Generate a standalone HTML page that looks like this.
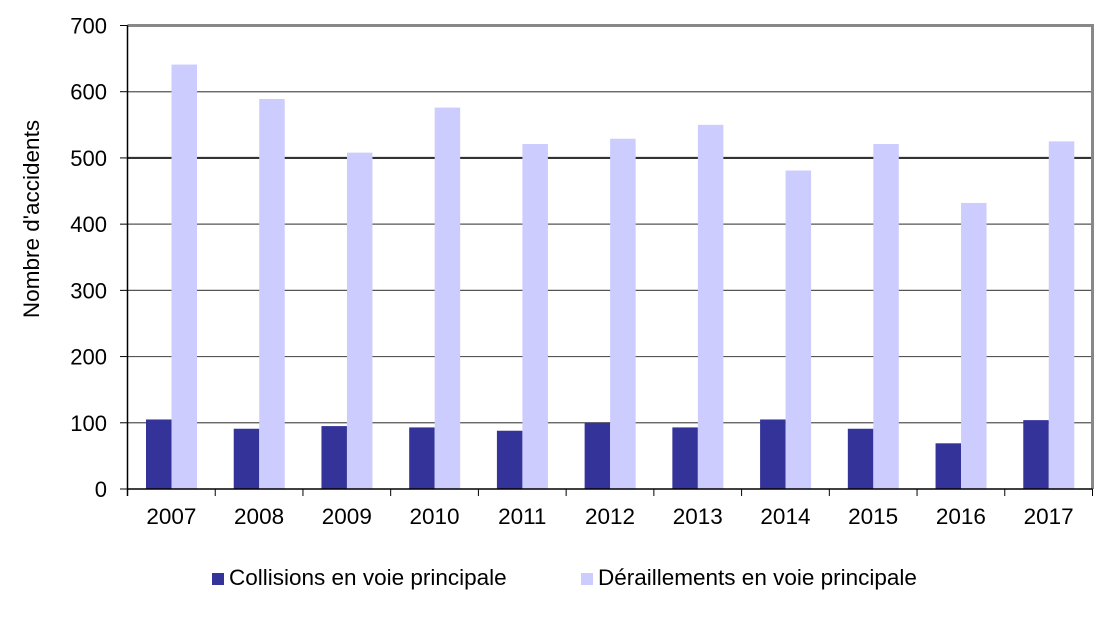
<!DOCTYPE html>
<html><head><meta charset="utf-8"><style>
html,body{margin:0;padding:0;background:#fff;}
svg text{font-family:"Liberation Sans",Arial,sans-serif;fill:#000;}
</style></head><body>
<svg width="1100" height="613" viewBox="0 0 1100 613" xmlns="http://www.w3.org/2000/svg">
<g id="grid"></g>
<g id="bars"></g>
<g id="axes"></g>
<text x="39" y="219" font-size="22.5" text-anchor="middle" transform="rotate(-90 39 219)">Nombre d'accidents</text>
<rect x="212" y="573" width="12" height="12" fill="#333399"/>
<text x="229" y="585" font-size="22.5">Collisions en voie principale</text>
<rect x="581" y="573" width="12" height="12" fill="#ccccff"/>
<text x="598" y="585" font-size="22.5">Déraillements en voie principale</text>
<script>
var ns="http://www.w3.org/2000/svg";
function el(p,t,a){var e=document.createElementNS(ns,t);for(var k in a)e.setAttribute(k,a[k]);document.getElementById(p).appendChild(e);return e;}
var x0=127.5,x1=1092.5,y0=489,yt=25.5,s=(y0-yt)/700,cw=(x1-x0)/11;
for(var v=100;v<=600;v+=100){var y=y0-v*s;
 el("grid","line",{x1:x0,x2:x1,y1:y,y2:y,stroke:v==500?"#333":"#555","stroke-width":v==500?2.2:1.2});}
for(var v=0;v<=700;v+=100){var y=y0-v*s;
 el("axes","line",{x1:120,x2:x0,y1:y,y2:y,stroke:"#000","stroke-width":1});
 var t=el("axes","text",{x:107,y:y+8,"font-size":22,"text-anchor":"end"});t.textContent=v;}
var c=[105,91,95,93,88,100,93,105,91,69,104],d=[641,589,508,576,521,529,550,481,521,432,525];
for(var i=0;i<11;i++){var bx=x0+i*cw+18.5;
 el("bars","rect",{x:bx,y:y0-c[i]*s,width:25.5,height:c[i]*s,fill:"#333399"});
 el("bars","rect",{x:bx+25.5,y:y0-d[i]*s,width:25.5,height:d[i]*s,fill:"#ccccff"});
 var t=el("axes","text",{x:x0+(i+0.5)*cw,y:524,"font-size":22.5,"text-anchor":"middle"});t.textContent=2007+i;}
for(var i=0;i<=11;i++){var x=x0+i*cw;el("axes","line",{x1:x,x2:x,y1:y0,y2:y0+7,stroke:"#000","stroke-width":1});}
el("axes","line",{x1:x0,x2:x1,y1:yt,y2:yt,stroke:"#888","stroke-width":3});
el("axes","line",{x1:x1,x2:x1,y1:yt-1.5,y2:y0,stroke:"#888","stroke-width":3});
el("axes","line",{x1:x0,x2:x0,y1:yt,y2:y0+7,stroke:"#000","stroke-width":1.5});
el("axes","line",{x1:x0,x2:x1,y1:y0,y2:y0,stroke:"#000","stroke-width":1.5});
</script>
</svg>
</body></html>
